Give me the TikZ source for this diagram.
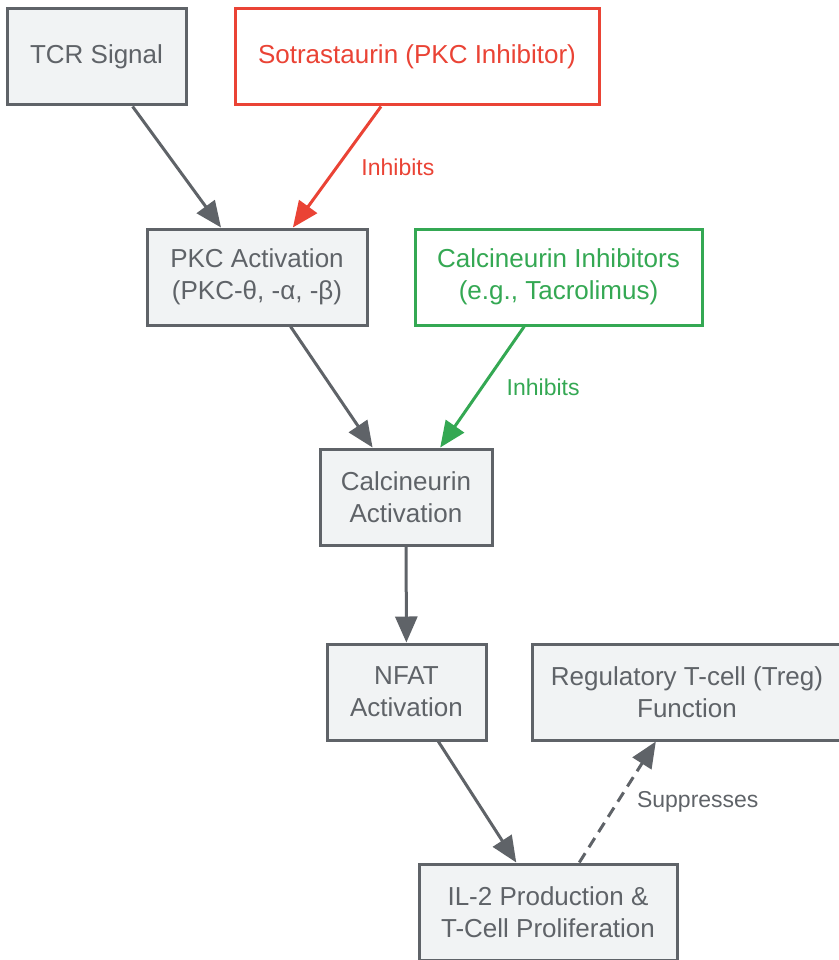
\documentclass[tikz,border=0pt]{standalone}
\usepackage{fontspec}
\setmainfont{Liberation Sans}
\usetikzlibrary{arrows.meta}
\definecolor{edgegray}{HTML}{5F6368}
\definecolor{boxfill}{HTML}{F1F3F4}
\definecolor{inhred}{HTML}{EA4335}
\definecolor{inhgreen}{HTML}{34A853}
\begin{document}
\begin{tikzpicture}[x=1pt,y=-1pt,
	box/.style={draw=edgegray,fill=boxfill,line width=3pt,text=edgegray,minimum height=96pt,align=center,font=\fontsize{26}{32}\selectfont},
	drugbox/.style={box,fill=white},
	flow/.style={draw=edgegray,line width=3pt,-{Triangle[length=26pt,width=22pt]}},
	lbl/.style={font=\fontsize{23}{28}\selectfont,inner sep=1pt}]
	\useasboundingbox (0,0) rectangle (838,960);
	% signalling boxes
	\node[box,minimum width=179pt] (tcr) at (96.5,57) {TCR Signal};
	\node[drugbox,draw=inhred,text=inhred,minimum width=364pt] (sotra) at (417,57) {Sotrastaurin (PKC Inhibitor)};
	\node[box,minimum width=220pt] (pkc) at (257,277) {PKC Activation\\(PKC-θ, -α, -β)};
	\node[drugbox,draw=inhgreen,text=inhgreen,minimum width=287pt] (cni) at (558.5,277) {Calcineurin Inhibitors\\(e.g., Tacrolimus)};
	\node[box,minimum width=172pt] (calc) at (406,497) {Calcineurin\\Activation};
	\node[box,minimum width=159pt] (nfat) at (406.5,692) {NFAT\\Activation};
	\node[box,minimum width=310pt] (treg) at (687,692) {Regulatory T-cell (Treg)\\Function};
	\node[box,minimum width=258pt] (il2) at (548,912) {IL-2 Production \&\\T-Cell Proliferation};
	% activation chain
	\draw[flow] (tcr) -- (pkc);
	\draw[flow] (pkc) -- (calc);
	\draw[flow] (calc) -- (nfat);
	\draw[flow] (nfat) -- (il2);
	% inhibitors
	\draw[flow,draw=inhred,-{Triangle[length=26pt,width=22pt,fill=inhred]}] (sotra) -- (pkc) node[lbl,midway,right=22pt,text=inhred] {Inhibits};
	\draw[flow,draw=inhgreen,-{Triangle[length=26pt,width=22pt,fill=inhgreen]}] (cni) -- (calc) node[lbl,midway,right=22pt,text=inhgreen] {Inhibits};
	% suppression
	\draw[flow,dash pattern=on 11pt off 7pt] (il2) -- (treg) node[lbl,midway,right=17pt,text=edgegray] {Suppresses};
\end{tikzpicture}
\end{document}
